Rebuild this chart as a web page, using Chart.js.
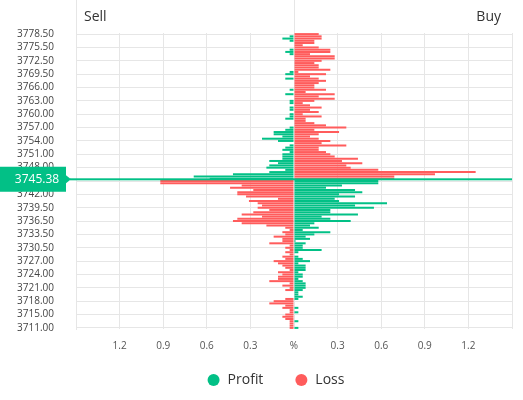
<!DOCTYPE html>
<html><head><meta charset="utf-8">
<script src="https://cdn.jsdelivr.net/npm/chart.js@4/dist/chart.umd.min.js"></script>
<style>html,body{margin:0;padding:0;background:#fff}#wrap{width:523px;height:400px;position:relative}</style>
</head><body><div id="wrap"><canvas id="c"></canvas></div>
<script>
const prices = [
3778.5,3778.0,3777.5,3777.0,3776.5,3776.0,3775.5,
3775.0,3774.5,3774.0,3773.5,3773.0,3772.5,
3772.0,3771.5,3771.0,3770.5,3770.0,3769.5,
3769.0,3768.5,3768.0,3767.5,3767.0,3766.0,
3765.5,3765.0,3764.5,3764.0,3763.5,3763.0,
3762.5,3762.0,3761.5,3761.0,3760.5,3760.0,
3759.5,3759.0,3758.5,3758.0,3757.5,3757.0,
3756.5,3756.0,3755.5,3755.0,3754.5,3754.0,
3753.5,3753.0,3752.5,3752.0,3751.5,3751.0,
3750.5,3750.0,3749.5,3749.0,3748.5,3748.0,
3747.5,3747.0,3746.5,3746.0,3745.5,3745.0,
3744.5,3744.0,3743.5,3743.0,3742.5,3742.0,
3741.5,3741.0,3740.5,3740.25,3740.0,3739.5,
3739.0,3738.5,3738.0,3737.5,3737.0,3736.5,
3736.0,3735.5,3735.0,3734.5,3734.0,3733.5,
3733.0,3732.5,3732.0,3731.5,3731.0,3730.5,
3730.0,3729.5,3729.0,3728.5,3728.0,3727.0,
3726.5,3726.0,3725.5,3725.0,3724.5,3724.0,
3723.5,3723.0,3722.5,3722.0,3721.5,3721.0,
3720.5,3720.0,3719.5,3719.0,3718.5,3718.0,
3717.5,3717.0,3716.5,3716.0,3715.5,3715.0,
3714.5,3714.0,3713.5,3713.0,3712.0,3711.0
];
const profit = [
0,-0.03,-0.08,-0.03,0,0,0,-0.03,-0.06,-0.03,
0,0,0,0,0,0,0,-0.03,-0.06,0,
-0.06,0,0,0,0,-0.03,0,-0.06,0,0,
-0.03,-0.03,0,-0.03,-0.03,0,-0.03,-0.03,-0.06,0,
0,0,-0.03,-0.06,-0.14,-0.14,-0.08,-0.22,-0.11,0,
-0.03,-0.06,-0.08,-0.03,-0.08,-0.08,-0.08,-0.17,-0.11,-0.17,
-0.19,-0.06,-0.17,-0.42,-0.69,-0.58,
0.58,0.58,0.33,0.22,0.42,0.47,0.31,0.42,0.28,0.31,
0.64,0.42,0.55,0.25,0.25,0.44,0.19,0.25,0.39,0.14,
0.11,0.17,0.06,0.25,0.14,0.08,0.11,0.01,0.08,0.06,
0.06,0.19,0.03,0,0.03,0.06,0.11,0.03,0.08,0.08,
0.08,0.03,0.06,0.06,0.03,0.06,0.08,0.08,0.08,0.06,
0.03,0.03,0.06,0.03,0,0,0,0.03,0,0.03,
0,0,0,0.03,0,0,0.03
];
const loss = [
0.17,0.19,0.19,0.14,0.14,0.06,0.17,0.25,0.25,0.11,
0.28,0.28,0.19,0.14,0.17,0.17,0.25,0.03,0.22,0.11,
0.17,0.22,0.17,0.14,0.14,0.22,0.08,0.28,0.17,0.28,
0.14,0.06,0.11,0.19,0.11,0.17,0.06,0.19,0.08,0.08,
0.14,0.22,0.36,0.14,0.31,0.17,0.11,0.17,0.25,0.19,
0.36,0.17,0.17,0.22,0.25,0.28,0.44,0.33,0.47,0.36,
0.39,0.58,1.25,0.97,0.69,0.69,
-0.92,-0.92,-0.36,-0.44,-0.28,-0.39,-0.39,-0.33,-0.11,-0.31,
-0.25,-0.22,-0.25,-0.17,-0.28,-0.36,-0.22,-0.39,-0.42,-0.36,
-0.19,-0.06,-0.03,-0.08,-0.06,-0.14,-0.08,-0.08,-0.17,-0.03,
-0.06,-0.03,-0.06,-0.03,-0.08,-0.06,-0.14,-0.11,-0.08,-0.06,
-0.03,-0.11,-0.08,-0.11,-0.11,-0.17,-0.03,-0.08,-0.03,-0.06,
0,0,0,-0.06,-0.14,-0.17,-0.06,-0.08,-0.03,-0.03,
-0.06,-0.08,-0.06,-0.03,-0.03,-0.03,-0.03
];
const currentPrice = 3745.38;
const seriesNames = ['Profit','Loss'];
const sideNames = ['Sell','Buy'];
const labelEvery = 6;

const GREEN = 'rgb(2,192,134)';
const RED = 'rgb(255,92,92)';
const GRID = '#e6e6e6';
const FONT = '"Open Sans", "Noto Sans", sans-serif';

const overlay = {
  id: 'overlay',
  beforeDraw(chart) {
    if (chart.legend) chart.legend.left = 28;
  },
  afterDraw(chart) {
    const ctx = chart.ctx, a = chart.chartArea;
    const xs = chart.scales.x, ys = chart.scales.y;
    const cx = xs.getPixelForValue(0);
    ctx.save();
    ctx.strokeStyle = GRID; ctx.lineWidth = 1;
    ctx.beginPath();
    ctx.moveTo(Math.round(a.left) + 0.5, 0); ctx.lineTo(Math.round(a.left) + 0.5, a.top);
    ctx.moveTo(Math.round(cx) + 0.5, 0); ctx.lineTo(Math.round(cx) + 0.5, a.top);
    ctx.stroke();
    ctx.fillStyle = '#333';
    ctx.font = '14px ' + FONT;
    ctx.textBaseline = 'middle';
    ctx.textAlign = 'left';
    ctx.fillText(sideNames[0], a.left + 8, 17);
    ctx.textAlign = 'right';
    ctx.fillText(sideNames[1], a.right - 11, 17);
    let i = 0;
    while (i < prices.length - 1 && !(prices[i] >= currentPrice && prices[i + 1] < currentPrice)) i++;
    const y0 = ys.getPixelForValue(i), y1 = ys.getPixelForValue(i + 1);
    const y = y0 + (y1 - y0) * (prices[i] - currentPrice) / (prices[i] - prices[i + 1]);
    ctx.fillStyle = GREEN;
    ctx.fillRect(70, y - 1, a.right - 70, 2);
    const top = y - 12.5, h = 25;
    ctx.beginPath();
    ctx.moveTo(0, top); ctx.lineTo(66, top); ctx.lineTo(66, y - 4); ctx.lineTo(71, y);
    ctx.lineTo(66, y + 4); ctx.lineTo(66, top + h); ctx.lineTo(0, top + h); ctx.closePath();
    ctx.fill();
    ctx.fillStyle = '#fff';
    ctx.font = '12px ' + FONT;
    ctx.textAlign = 'center';
    ctx.fillText(currentPrice.toFixed(2), 37, y);
    ctx.restore();
  }
};

new Chart(document.getElementById('c'), {
  type: 'bar',
  data: {
    labels: prices.map(p => p.toFixed(2)),
    datasets: [
      { label: seriesNames[0], data: profit, backgroundColor: GREEN, borderWidth: 0, barPercentage: 0.9, categoryPercentage: 1 },
      { label: seriesNames[1], data: loss, backgroundColor: RED, borderWidth: 0, barPercentage: 0.9, categoryPercentage: 1 }
    ]
  },
  options: {
    indexAxis: 'y',
    responsive: true,
    maintainAspectRatio: false,
    animation: false,
    devicePixelRatio: 1,
    layout: { padding: { left: 0, top: 33, right: 0, bottom: 3 } },
    scales: {
      x: {
        min: -1.5, max: 1.5, stacked: true,
        ticks: {
          stepSize: 0.3,
          font: { family: FONT, size: 10 }, color: '#555', padding: 11,
          callback: v => Math.abs(v) < 1e-6 ? '%' : (Math.abs(Math.abs(v) - 1.5) < 1e-6 ? '' : Math.abs(v).toFixed(1))
        },
        grid: { color: GRID, drawTicks: false },
        border: { display: false },
        afterFit(s) { s.height = 34; }
      },
      y: {
        stacked: true,
        ticks: {
          autoSkip: false,
          font: { family: FONT, size: 10 }, color: '#444', padding: 22,
          callback: function (v, i) { return i % labelEvery === 0 ? this.getLabelForValue(v) : ''; }
        },
        grid: { offset: false, drawTicks: false, color: c => (c.index % labelEvery === 0 ? GRID : 'rgba(0,0,0,0)') },
        border: { display: true, color: GRID },
        afterFit(s) { s.width = 76; }
      }
    },
    plugins: {
      legend: {
        position: 'bottom',
        labels: {
          usePointStyle: true, pointStyle: 'circle', boxWidth: 14, boxHeight: 8.5, padding: 10,
          font: { family: FONT, size: 14 }, color: '#333',
          generateLabels(chart) {
            const items = Chart.defaults.plugins.legend.labels.generateLabels(chart);
            items[0].text = items[0].text + '\u2003\u2002';
            return items;
          }
        }
      },
      tooltip: { enabled: false }
    }
  },
  plugins: [overlay]
});
</script></body></html>
